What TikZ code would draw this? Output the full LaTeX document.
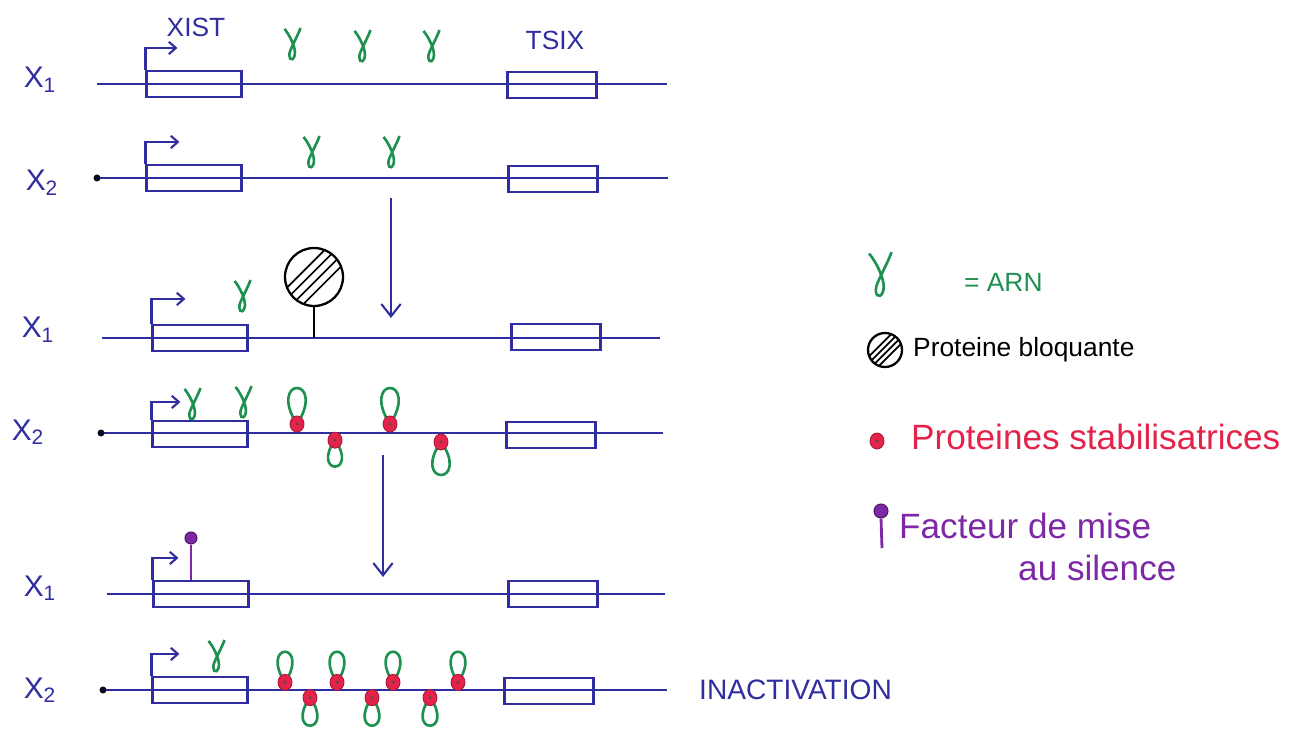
\documentclass[tikz,border=0pt]{standalone}
\usepackage{fontspec}
\setmainfont{Liberation Sans}
\usetikzlibrary{arrows.meta}

\definecolor{bleu}{RGB}{48,45,160}
\definecolor{vert}{RGB}{30,145,80}
\definecolor{rouge}{RGB}{228,35,75}
\definecolor{mauve}{RGB}{125,40,165}

\tikzset{
  chrom/.style={bleu, line width=1.5pt},
  genebox/.style={draw=bleu, line width=1.2pt, minimum width=1.9cm, minimum height=0.52cm, inner sep=0pt},
  tsixbox/.style={genebox, minimum width=1.78cm},
  promo/.style={bleu, line width=1.2pt, -{Straight Barb[length=4pt,width=7pt]}},
  fleche/.style={bleu, line width=1.2pt, -{Straight Barb[length=7pt,width=11pt]}},
  lab/.style={bleu, font=\fontsize{17}{19}\selectfont},
  genelab/.style={bleu, font=\fontsize{15}{17}\selectfont},
  arnline/.style={vert, line width=1.5pt},
  hachure/.style={path picture={
    \draw[line width=1pt] ([xshift=-1.5*#1]path picture bounding box.south west) -- ([xshift=-1.5*#1]path picture bounding box.north east);
    \draw[line width=1pt] ([xshift=-0.5*#1]path picture bounding box.south west) -- ([xshift=-0.5*#1]path picture bounding box.north east);
    \draw[line width=1pt] ([xshift=0.5*#1]path picture bounding box.south west) -- ([xshift=0.5*#1]path picture bounding box.north east);
    \draw[line width=1pt] ([xshift=1.5*#1]path picture bounding box.south west) -- ([xshift=1.5*#1]path picture bounding box.north east);}},
  bloquante/.style={circle, draw, line width=1.3pt, inner sep=0pt},
  facteur/.style={circle, fill=mauve, draw=mauve!60!black, line width=0.6pt, inner sep=0pt, minimum size=0.24cm},
  arn/.pic={\draw[arnline] (-8.5,-16) .. controls (-4,-11) and (4,4) .. (1.5,11) .. controls (-1,18) and (-6,13) .. (-2.5,5) .. controls (0,-1) and (5,-10) .. (7.5,-17);},
  stab/.pic={\fill[rouge, draw=rouge!75!black, line width=0.5pt] (0,0) ellipse (7 and 8); \fill[black!70] (0,0) circle (1.5);},
  bouclehaut/.pic={\draw[arnline] (0,-9) .. controls (-14,-30) and (-9,-45) .. (0,-45) .. controls (9,-45) and (14,-30) .. (0,-9);
    \pic at (0,-9) {stab};},
  bouclebas/.pic={\draw[arnline] (0,9) .. controls (-14,28) and (-9,42) .. (0,42) .. controls (9,42) and (14,28) .. (0,9);
    \pic at (0,9) {stab};}
}

\begin{document}
\begin{tikzpicture}[x=0.02cm,y=-0.02cm]
\useasboundingbox (0,0) rectangle (1304,733);

% X1, debut
\node[lab] (labA) at (40,80) {X\textsubscript{1}};
\coordinate (gA) at (97,84); \coordinate (dA) at (667,84);
\draw[chrom] (gA) -- (dA);
\node[genebox] (xistA) at (194,84) {};
\node[tsixbox] (tsixA) at (552,85) {};
\draw[promo] (xistA.north west) -- ++(0,-22) -- ++(32,0);
\node[genelab] (nomxist) at (196,27) {XIST};
\node[genelab] (nomtsix) at (555,40) {TSIX};
\pic at (293,45) {arn};
\pic at (363,47) {arn};
\pic at (432,47) {arn};

% X2, debut
\node[lab] (labB) at (42,183) {X\textsubscript{2}};
\coordinate (gB) at (97,178); \coordinate (dB) at (668,178);
\draw[chrom] (gB) -- (dB);
\fill[black!80!bleu] (gB) circle (3.5);
\node[genebox] (xistB) at (194,178) {};
\node[tsixbox] (tsixB) at (553,179) {};
\draw[promo] (xistB.north west) -- ++(0,-22) -- ++(34,0);
\pic at (312,153) {arn};
\pic at (392,153) {arn};

\coordinate (f1haut) at (391,198); \coordinate (f1bas) at (391,318);
\draw[fleche] (f1haut) -- (f1bas);

% X1, proteine bloquante
\node[lab] (labC) at (38,330) {X\textsubscript{1}};
\coordinate (gC) at (102,338); \coordinate (dC) at (660,338);
\draw[chrom] (gC) -- (dC);
\node[genebox] (xistC) at (200,338) {};
\node[tsixbox] (tsixC) at (556,337) {};
\draw[promo] (xistC.north west) -- ++(0,-25) -- ++(34,0);
\pic at (243,297) {arn};
\node[bloquante, hachure=0.22cm, minimum size=1.16cm] (bloq) at (314,277) {};
\draw[line width=1.3pt] (bloq.south) -- (bloq.south |- gC);

% X2, proteines stabilisatrices
\node[lab] (labD) at (28,432) {X\textsubscript{2}};
\coordinate (gD) at (101,433); \coordinate (dD) at (663,433);
\draw[chrom] (gD) -- (dD);
\fill[black!80!bleu] (gD) circle (3.5);
\node[genebox] (xistD) at (200,434) {};
\node[tsixbox] (tsixD) at (551,435) {};
\draw[promo] (xistD.north west) -- ++(0,-18) -- ++(29,0);
\pic at (193,405) {arn};
\pic at (244,403) {arn};
\pic at (297,433) {bouclehaut};
\pic at (390,433) {bouclehaut};
\pic[scale=0.8] at (335,433) {bouclebas};
\pic at (441,433) {bouclebas};

\coordinate (f2haut) at (383,455); \coordinate (f2bas) at (383,577);
\draw[fleche] (f2haut) -- (f2bas);

% X1, facteur de mise au silence
\node[lab] (labE) at (40,588) {X\textsubscript{1}};
\coordinate (gE) at (107,594); \coordinate (dE) at (665,594);
\draw[chrom] (gE) -- (dE);
\node[genebox] (xistE) at (201,594) {};
\node[tsixbox] (tsixE) at (553,594) {};
\draw[promo] (xistE.north west) -- ++(0,-22) -- ++(26,0);
\node[facteur] (fact) at (191,538) {};
\draw[mauve, line width=1.3pt] (fact.south) -- (fact.south |- xistE.north);

% X2, inactivation
\node[lab] (labF) at (40,690) {X\textsubscript{2}};
\coordinate (gF) at (103,690); \coordinate (dF) at (667,690);
\draw[chrom] (gF) -- (dF);
\fill[black!80!bleu] (gF) circle (3.5);
\node[genebox] (xistF) at (200,690) {};
\node[tsixbox] (tsixF) at (549,691) {};
\draw[promo] (xistF.north west) -- ++(0,-22) -- ++(28,0);
\pic at (217,657) {arn};
\pic[scale=0.85] at (285,690) {bouclehaut};
\pic[scale=0.85] at (337,690) {bouclehaut};
\pic[scale=0.85] at (393,690) {bouclehaut};
\pic[scale=0.85] at (458,690) {bouclehaut};
\pic[scale=0.85] at (310,690) {bouclebas};
\pic[scale=0.85] at (372,690) {bouclebas};
\pic[scale=0.85] at (430,690) {bouclebas};
\node[anchor=west, bleu, font=\fontsize{16}{18}\selectfont] (inact) at (693,690) {INACTIVATION};

% legende
\pic[scale=1.4] at (881,276) {arn};
\node[anchor=west, vert, font=\fontsize{15}{17}\selectfont] (legarn) at (958,282) {= ARN};
\node[bloquante, hachure=0.13cm, minimum size=0.68cm] (legbloq) at (885,350) {};
\node[anchor=west, font=\fontsize{15}{17}\selectfont] (legbloqtxt) at (907,350) {Proteine bloquante};
\pic at (877,441) {stab};
\node[anchor=west, rouge, font=\fontsize{20}{22}\selectfont] (legstab) at (905,437) {Proteines stabilisatrices};
\node[facteur, minimum size=0.28cm] (legfact) at (881,511) {};
\coordinate (legfactbas) at (882,548);
\draw[mauve, line width=1.6pt] (legfact.south) -- (legfactbas);
\node[anchor=west, mauve, font=\fontsize{20}{22}\selectfont] (legfact1) at (893,526) {Facteur de mise};
\node[anchor=west, mauve, font=\fontsize{20}{22}\selectfont] (legfact2) at (1012,568) {au silence};
\end{tikzpicture}
\end{document}
